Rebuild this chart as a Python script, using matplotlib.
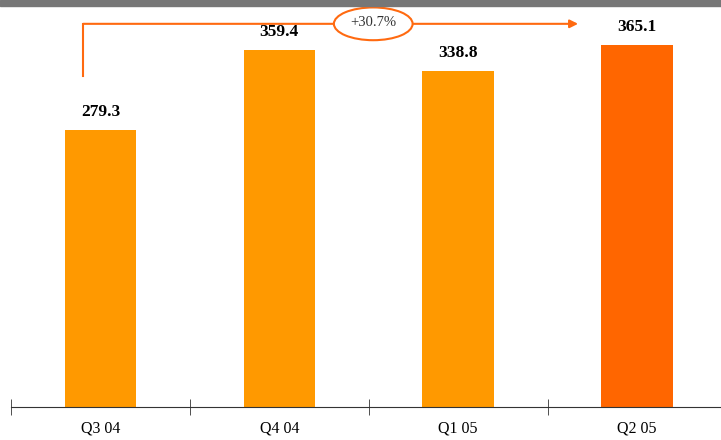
import matplotlib.pyplot as plt
from matplotlib.patches import Rectangle, Ellipse

quarters = ['Q3 04', 'Q4 04', 'Q1 05', 'Q2 05']
values = [279.3, 359.4, 338.8, 365.1]
bar_colors = ['#FF9900', '#FF9900', '#FF9900', '#FF6600']
growth_label = '+30.7%'

plt.rcParams['font.family'] = ['Liberation Serif', 'DejaVu Serif']

fig = plt.figure(figsize=(7.21, 4.40), dpi=100)
ax = fig.add_axes([11 / 721, 33 / 440, 710 / 721, 407 / 440])

x = range(len(quarters))
ax.bar(x, values, width=0.4, color=bar_colors)

for i, v in enumerate(values):
    ax.text(i, v + 10, f'{v:.1f}', ha='center', va='bottom',
            fontsize=12.5, fontweight='bold')

ax.set_xlim(-0.497, 3.469)
ax.set_ylim(0, 410)

# bracket arrow from first to last quarter
arrow_c = '#FF6A10'
y_top = 386
ax.plot([-0.095, -0.095], [333, y_top], color=arrow_c, lw=1.5)
ax.annotate('', xy=(2.67, y_top), xytext=(-0.095, y_top),
            arrowprops=dict(arrowstyle='-|>', color=arrow_c, lw=1.5,
                            mutation_scale=12, shrinkA=0, shrinkB=0))
ax.add_patch(Ellipse((1.525, y_top), 0.44, 33, facecolor='white',
                     edgecolor=arrow_c, lw=1.5, zorder=3))
ax.text(1.525, y_top + 1, growth_label, ha='center', va='center',
        fontsize=10.5, color='#333333', zorder=4)

for s in ['top', 'right', 'left']:
    ax.spines[s].set_visible(False)
ax.spines['bottom'].set_color('#333333')
ax.set_yticks([])

ax.set_xticks(list(x))
ax.set_xticklabels(quarters, fontsize=11.5)
ax.tick_params(axis='x', which='major', length=0, pad=10)
ax.set_xticks([-0.5, 0.5, 1.5, 2.5], minor=True)
ax.tick_params(axis='x', which='minor', direction='inout', length=12,
               color='#333333')

fig.patches.append(Rectangle((0, 1 - 6 / 440), 1, 6 / 440,
                             transform=fig.transFigure, color='#777777'))

fig.savefig('out.png', dpi=100)
